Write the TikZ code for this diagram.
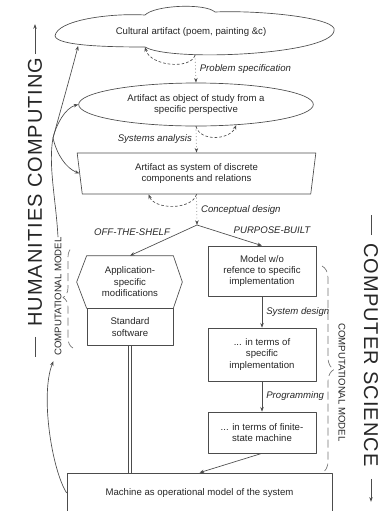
\documentclass[tikz,border=0pt]{standalone}
\usepackage{fontspec}
\setmainfont{Liberation Sans}
\newfontfamily\bigfont[LetterSpace=5]{Liberation Sans}
\usetikzlibrary{positioning,shapes.geometric,arrows.meta,decorations.pathreplacing}
\begin{document}
\begin{tikzpicture}[x=0.75pt,y=-0.75pt,>={Stealth[length=3.5pt,width=2.6pt]},line join=round,color=black!70,line width=0.5pt,
	every node/.style={font=\fontsize{7.2}{8.6}\selectfont,text=black!85,align=center,inner sep=0pt},
	box/.style={draw,rectangle,minimum width=81pt},
	lab/.style={font=\fontsize{7.2}{8.6}\selectfont\itshape},
	big/.style={font=\bigfont\fontsize{15}{15}\selectfont},
	dots/.style={dotted,->},
	back/.style={dash pattern=on 2pt off 1.5pt,->},
	brc/.style={decorate,decoration={brace,amplitude=#1},dash pattern=on 6pt off 3pt,draw=black!55}]
	\useasboundingbox (0,0) rectangle (388,511);
	% cloud outline
	\draw (55,36) .. controls (57,20) and (110,13) .. (145,15)
		.. controls (155,5) and (205,3) .. (215,12)
		.. controls (260,10) and (340,18) .. (334,31)
		.. controls (330,55) and (170,62) .. (145,47)
		.. controls (110,47) and (57,46) .. cycle;
	\coordinate (notch) at (145,47);
	\node[ellipse,minimum width=210pt,minimum height=34.5pt] (art) at (191,32) {Cultural artifact (poem, painting \&c)};
	\node[ellipse,draw,minimum width=176pt,minimum height=32.25pt] (study) at (196,104.5) {Artifact as object of study from a\\specific perspective};
	\node[trapezium,draw,shape border rotate=180,trapezium angle=76,trapezium stretches body,minimum width=179pt,minimum height=30.75pt] (sys) at (196.5,173.5) {Artifact as system of discrete\\components and relations};
	\coordinate (split) at (197,225);
	\node[minimum width=64.5pt,minimum height=39pt] (app) at (130,282) {Application-\\specific\\modifications};
	\node[box,minimum width=64.5pt,minimum height=27.75pt,below=0pt of app] (std) {Standard\\software};
	\node[box,minimum height=37.5pt] (model) at (262,271) {Model w/o\\refence to specific\\implementation};
	\node[box,minimum height=39.75pt] (impl) at (262,354.5) {... in terms of\\specific\\implementation};
	\node[box,minimum height=30.75pt] (fsm) at (262,432.5) {... in terms of finite-\\state machine};
	\node[box,minimum width=198.75pt,minimum height=30pt] (mach) at (199.5,493) {Machine as operational model of the system};
	% hexagon round the modifications
	\draw (app.north west) -- (app.north east) -- ([xshift=6.75pt]app.east) -- (app.south east) -- (app.south west) -- ([xshift=-7.5pt]app.west) -- cycle;
	% steps down the middle
	\draw[dots] ([xshift=3pt]art.south) -- node[lab,right=3pt] {Problem specification} (study.north);
	\draw[back] ([xshift=3pt]art.south) .. controls (190,70) and (150,66) .. (notch);
	\draw[dots] (study.south) -- node[lab,left=3pt] {Systems analysis} (sys.north);
	\draw[back] (study.south) .. controls (200,142) and (230,140) .. (study.-27);
	\draw[dots] (sys.south) -- node[lab,right=3pt] {Conceptual design} (split);
	\draw[back] (sys.south) .. controls (192,210) and (155,210) .. ([xshift=-36pt]sys.south);
	\draw[->] (split) -- (app.north);
	\draw[->] (split) -- (model.north);
	\node[lab] (offs) at (132,232) {OFF-THE-SHELF};
	\node[lab] (purp) at (272,230) {PURPOSE-BUILT};
	\draw[double,double distance=2pt] (std.south) -- (std.south |- mach.north);
	\draw[->] (model) -- node[lab,right=3pt] {System design} (impl);
	\draw[->] (impl) -- node[lab,right=3pt] {Programming} (fsm);
	\draw[->] (fsm.south) -- (mach.north);
	% the two computational models
	\node[rotate=90] (cml) at (58,296.5) {COMPUTATIONAL MODEL};
	\node[rotate=-90] (cmr) at (342,382.5) {COMPUTATIONAL MODEL};
	\draw[brc=7.5pt] (73,348) -- (73,247);
	\draw[brc=9pt] (322,266) -- (322,473);
	\coordinate (hub) at (53,138);
	\draw (cml.east) .. controls (56,200) and (48,165) .. (hub);
	\draw[->] (hub) .. controls (62,105) and (72,70) .. (art.187);
	\draw[->] (hub) .. controls (56,125) and (65,108) .. (study.west);
	\draw[->] (hub) .. controls (57,155) and (66,168) .. (sys.west);
	\draw[->] (mach.west) .. controls (52,470) and (40,395) .. ([xshift=-3.5pt,yshift=-4pt]cml.west);
	% side headings
	\node[big,rotate=90] (hc) at (35,192) {HUMANITIES COMPUTING};
	\draw (hc.west) ++(0,10) -- ++(0,20);
	\draw[->] (hc.east) ++(0,-3) -- ++(0,-30);
	\node[big,rotate=-90] (cs) at (371,355) {COMPUTER SCIENCE};
	\draw (cs.west) ++(0,-8) -- ++(0,-20);
	\draw[->] (cs.east) ++(0,12) -- ++(0,23);
\end{tikzpicture}
\end{document}
